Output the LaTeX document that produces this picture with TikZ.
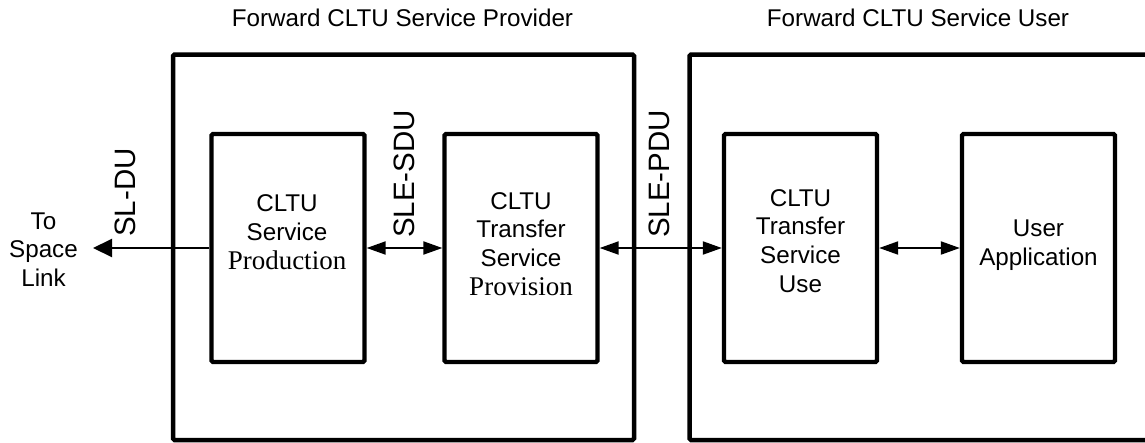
\documentclass[tikz,border=0pt]{standalone}
\usepackage{fontspec}
\setmainfont{Liberation Sans}
\newfontfamily\tnr{Liberation Serif}
\usetikzlibrary{arrows.meta}
\begin{document}
\begin{tikzpicture}[x=1pt,y=-1pt,
  outerbox/.style={draw, line width=4.5pt, rounded corners=1.5pt, inner sep=0},
  innerbox/.style={draw, line width=4.3pt, rounded corners=1.5pt, inner sep=0,
    minimum width=153pt, minimum height=228pt},
  lbl/.style={font=\fontsize{24.2}{28.8}\selectfont, align=center, inner sep=0},
  rlbl/.style={font=\fontsize{29.5}{30}\selectfont, rotate=90, inner sep=0},
  link/.style={line width=2pt},
  dbl/.style={link, {Triangle[length=19pt,width=13pt]}-{Triangle[length=19pt,width=13pt]}},
  single/.style={link, -{Triangle[length=19pt,width=18pt]}},
]
\useasboundingbox[fill=white] (0,0) rectangle (1145,442);

% outer boxes
\node[outerbox, minimum width=461pt, minimum height=385.5pt] (provider) at (403.5,247.25) {};
\node[outerbox, minimum width=480pt, minimum height=385.5pt] (user) at (929.5,247.25) {};

% titles
\node[lbl] (tprovider) at (402.5,18) {Forward CLTU Service Provider};
\node[lbl] (tuser) at (918,18) {Forward CLTU Service User};

% inner boxes
\node[innerbox] (prod) at (288,248) {};
\node[innerbox] (prov) at (521,248) {};
\node[innerbox] (use) at (800.5,248) {};
\node[innerbox] (app) at (1038.5,248) {};

% box texts
\node[lbl] (tprod) at (287,232) {CLTU\\Service\\{\tnr\fontsize{27}{29.5}\selectfont Production}};
\node[lbl] (tprov) at (521,244) {CLTU\\Transfer\\Service\\{\tnr\fontsize{27}{29.5}\selectfont Provision}};
\node[lbl] (tuse) at (800.5,241) {CLTU\\Transfer\\Service\\Use};
\node[lbl] (tapp) at (1038.5,245) {User\\Application};

% space link
\node[lbl] (tsl) at (43.5,249.5) {To\\Space\\Link};
\coordinate (slend) at (93,248);

% connectors
\draw[single] (prod.west) -- (slend);
\draw[dbl] (prod.east) -- (prov.west);
\draw[dbl] (prov.east) -- (use.west);
\draw[dbl] (use.east) -- (app.west);

% rotated labels
\node[rlbl] (lsldu) at (125,192.5) {SL-DU};
\node[rlbl] (lsdu) at (404,174) {SLE-SDU};
\node[rlbl] (lpdu) at (659,174) {SLE-PDU};
\end{tikzpicture}
\end{document}
